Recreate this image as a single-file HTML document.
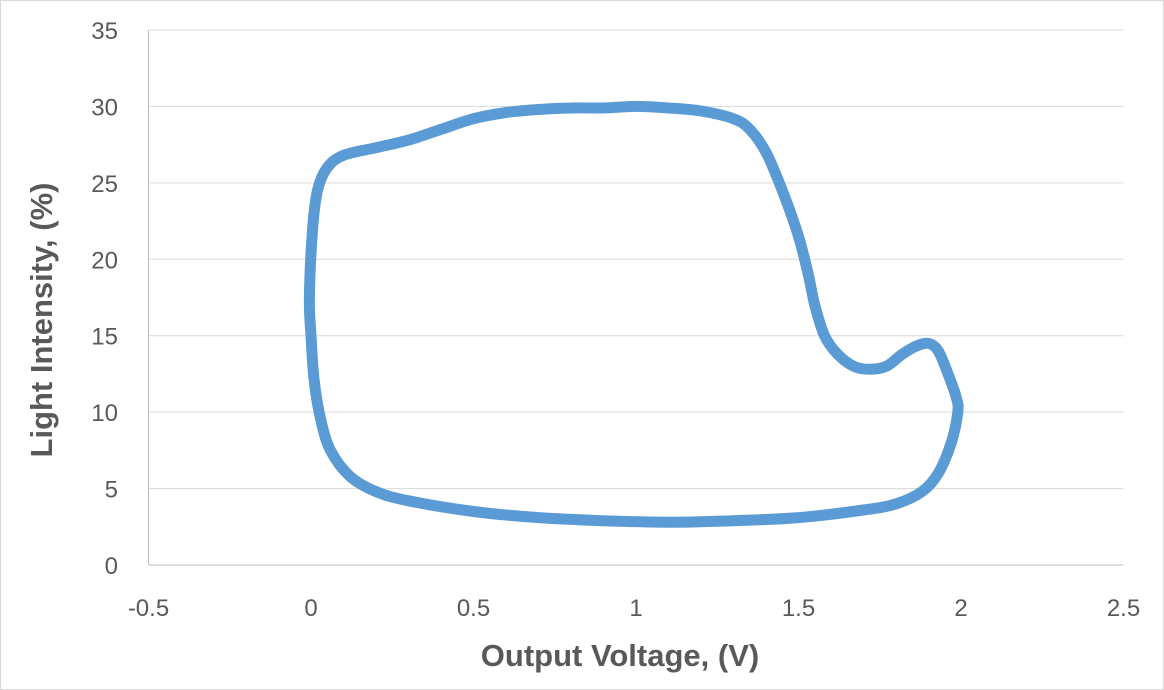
<!DOCTYPE html>
<html><head><meta charset="utf-8"><style>
html,body{margin:0;padding:0;background:#fff}
svg{display:block}
text{font-family:"Liberation Sans",sans-serif;fill:#595959}
</style></head><body>
<svg id="chart" width="1164" height="690">
<rect x="0.5" y="0.5" width="1163" height="689" fill="#fff" stroke="#d9d9d9"/>
<g id="grid"></g>
<g id="axes"></g>
<path id="curve" fill="none" stroke="#5B9BD5" stroke-width="11" stroke-linejoin="round" stroke-linecap="round"/>
<text x="620" y="666" text-anchor="middle" font-size="31" font-weight="bold">Output Voltage, (V)</text>
<text transform="translate(52,320) rotate(-90)" text-anchor="middle" font-size="31" font-weight="bold">Light Intensity, (%)</text>
</svg>
<script>
const xTicks=[-0.5,0,0.5,1,1.5,2,2.5];
const yTicks=[0,5,10,15,20,25,30,35];
const voltage=[-0.005,0.005,0.02,0.05,0.1,0.2,0.3,0.4,0.5,0.6,0.7,0.8,0.9,1.0,1.1,1.2,1.3,1.35,1.4,1.45,1.5,1.53,1.55,1.58,1.62,1.67,1.72,1.77,1.82,1.86,1.9,1.93,1.96,1.985,1.99,1.97,1.93,1.88,1.8,1.7,1.5,1.3,1.1,0.9,0.7,0.5,0.3,0.2,0.12,0.06,0.03,0.01,0.0];
const intensity=[17.5,22,24.5,26,26.8,27.3,27.8,28.5,29.2,29.6,29.8,29.9,29.9,30,29.9,29.7,29.2,28.5,27,24.5,21.5,19,17,15,13.8,13,12.8,13,13.8,14.3,14.5,14,12.5,11,10,8,6,4.8,4,3.6,3.1,2.9,2.8,2.9,3.1,3.5,4.2,4.8,5.8,7.5,9.5,12,15];
const X=v=>311+(v)*325;
const Y=v=>565-v*(535/35);
const ns="http://www.w3.org/2000/svg";
const grid=document.getElementById('grid'),axes=document.getElementById('axes');
yTicks.forEach(t=>{
 const l=document.createElementNS(ns,'line');
 l.setAttribute('x1',X(-0.5));l.setAttribute('x2',X(2.5));l.setAttribute('y1',Y(t));l.setAttribute('y2',Y(t));
 l.setAttribute('stroke',t===0?'#bfbfbf':'#d9d9d9');l.setAttribute('stroke-width','1');
 
 
 grid.appendChild(l);
 const tx=document.createElementNS(ns,'text');
 tx.setAttribute('x',118);tx.setAttribute('y',Y(t)+9);tx.setAttribute('text-anchor','end');tx.setAttribute('font-size','24');
 tx.textContent=t;
 
 
 axes.appendChild(tx);
});
const ya=document.createElementNS(ns,'line');
ya.setAttribute('x1',X(-0.5));ya.setAttribute('x2',X(-0.5));ya.setAttribute('y1',Y(0));ya.setAttribute('y2',Y(35));ya.setAttribute('stroke','#bfbfbf');


axes.appendChild(ya);
xTicks.forEach(t=>{
 const tx=document.createElementNS(ns,'text');
 tx.setAttribute('x',X(t));tx.setAttribute('y',616);tx.setAttribute('text-anchor','middle');tx.setAttribute('font-size','24');
 tx.textContent=t;
 
 
 axes.appendChild(tx);
});
// closed Catmull-Rom smoothing
const P=voltage.map((v,i)=>[X(v),Y(intensity[i])]);
const n=P.length;
let d='M'+P[0][0].toFixed(1)+' '+P[0][1].toFixed(1);
for(let i=0;i<n;i++){
 const p0=P[(i-1+n)%n],p1=P[i],p2=P[(i+1)%n],p3=P[(i+2)%n];
 const c1=[p1[0]+(p2[0]-p0[0])/6,p1[1]+(p2[1]-p0[1])/6];
 const c2=[p2[0]-(p3[0]-p1[0])/6,p2[1]-(p3[1]-p1[1])/6];
 d+=' C'+c1[0].toFixed(1)+' '+c1[1].toFixed(1)+' '+c2[0].toFixed(1)+' '+c2[1].toFixed(1)+' '+p2[0].toFixed(1)+' '+p2[1].toFixed(1);
}
document.getElementById('curve').setAttribute('d',d+'Z');
</script>
</body></html>
